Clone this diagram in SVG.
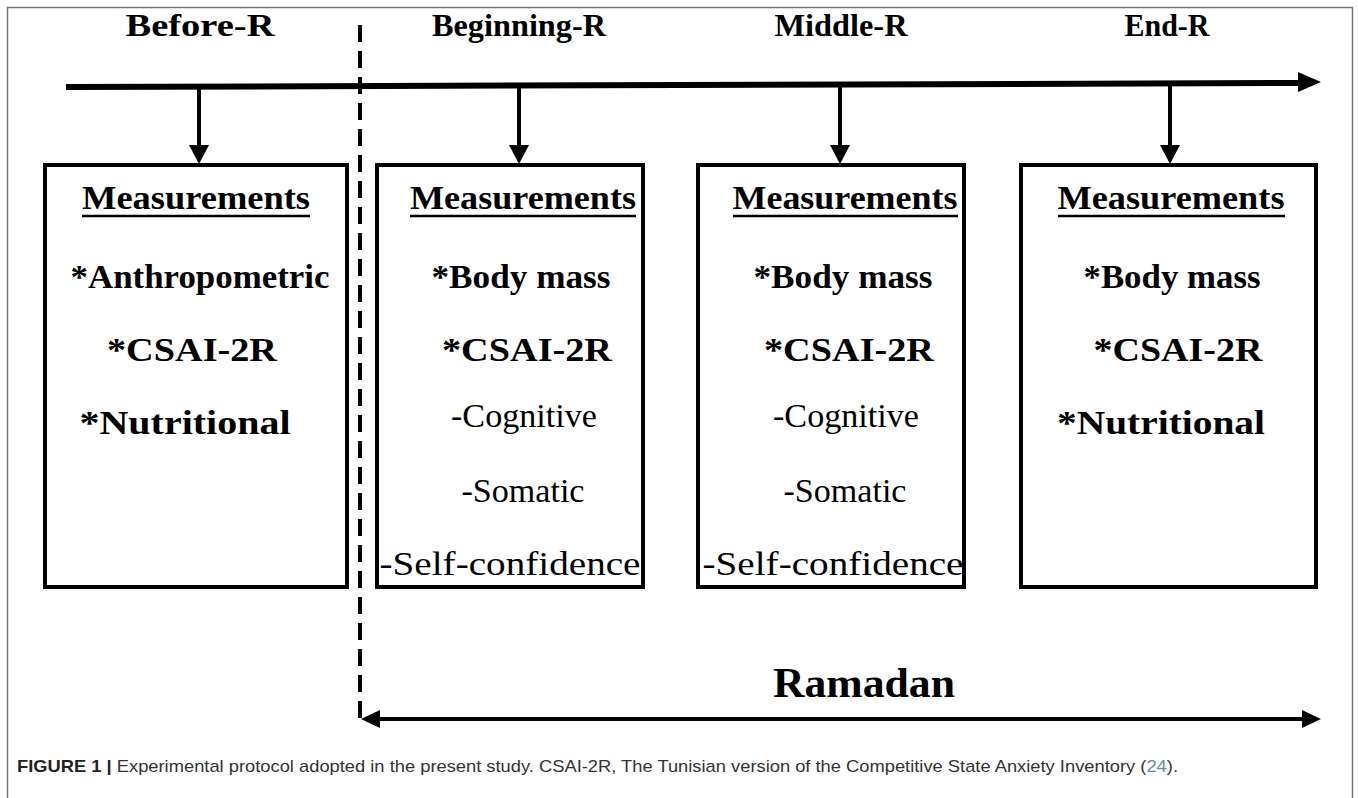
<svg xmlns="http://www.w3.org/2000/svg" width="1358" height="798" viewBox="0 0 1358 798">
<style>
.b{font-family:"Liberation Serif","Times New Roman",serif;font-weight:bold;fill:#000;text-anchor:middle}
.r{font-family:"Liberation Serif","Times New Roman",serif;fill:#000;text-anchor:middle}
.h{font-size:32px}
.t{font-size:33px}
.box{fill:#fff;stroke:#000;stroke-width:4}
.ul{stroke:#000;stroke-width:2.5}
.cap{font-family:"Liberation Sans",Arial,sans-serif;font-size:17px;fill:#333}
</style>
<defs>
<marker id="ah" viewBox="0 0 10 10" refX="10" refY="5" markerWidth="5" markerHeight="5" markerUnits="strokeWidth" orient="auto">
<path d="M0,0 L10,5 L0,10 z" fill="#000"/>
</marker>
<marker id="ah2" viewBox="0 0 10 10" refX="10" refY="5" markerWidth="4.5" markerHeight="4.5" markerUnits="strokeWidth" orient="auto-start-reverse">
<path d="M0,0 L10,5 L0,10 z" fill="#000"/>
</marker>
</defs>
<rect x="7.5" y="7.5" width="1345" height="810" fill="#fff" stroke="#777" stroke-width="1.5"/>

<g id="phase-labels">
<text class="b h" x="200" y="36" textLength="149" lengthAdjust="spacingAndGlyphs">Before-R</text>
<text class="b h" x="519" y="36" textLength="174" lengthAdjust="spacingAndGlyphs">Beginning-R</text>
<text class="b h" x="841" y="36" textLength="133" lengthAdjust="spacingAndGlyphs">Middle-R</text>
<text class="b h" x="1167" y="36" textLength="85" lengthAdjust="spacingAndGlyphs">End-R</text>
</g>

<g id="connectors">
<line x1="66" y1="87" x2="1302" y2="83" stroke="#000" stroke-width="6"/>
<path d="M1298,72 L1321,82 L1298,92 z" fill="#000"/>
<line x1="199" y1="88" x2="199" y2="146" stroke="#000" stroke-width="4"/>
<path d="M189,145 L199,164 L209,145 z" fill="#000"/>
<line x1="519" y1="87" x2="519" y2="146" stroke="#000" stroke-width="4"/>
<path d="M509,145 L519,164 L529,145 z" fill="#000"/>
<line x1="840" y1="86" x2="840" y2="146" stroke="#000" stroke-width="4"/>
<path d="M830,145 L840,164 L850,145 z" fill="#000"/>
<line x1="1170" y1="85" x2="1170" y2="146" stroke="#000" stroke-width="4"/>
<path d="M1160,145 L1170,164 L1180,145 z" fill="#000"/>
<line x1="360" y1="25" x2="360" y2="719" stroke="#000" stroke-width="4" stroke-dasharray="17,9"/>
<line x1="380" y1="719" x2="1302" y2="719" stroke="#000" stroke-width="4"/>
<path d="M380,710 L361,719 L380,728 z" fill="#000"/>
<path d="M1302,710 L1321,719 L1302,728 z" fill="#000"/>
</g>

<g id="box-before">
<rect class="box" x="45" y="165" width="302" height="422"/>
<text class="b t" x="196" y="209" textLength="228" lengthAdjust="spacingAndGlyphs">Measurements</text>
<line class="ul" x1="82" y1="216" x2="310" y2="216"/>
<text class="b t" x="200" y="288" textLength="259" lengthAdjust="spacingAndGlyphs">*Anthropometric</text>
<text class="b t" x="192" y="361" textLength="170" lengthAdjust="spacingAndGlyphs">*CSAI-2R</text>
<text class="b t" x="185" y="434" textLength="211" lengthAdjust="spacingAndGlyphs">*Nutritional</text>
</g>

<g id="box-beginning">
<rect class="box" x="377" y="165" width="266" height="422"/>
<text class="b t" x="523" y="209" textLength="226" lengthAdjust="spacingAndGlyphs">Measurements</text>
<line class="ul" x1="410" y1="216" x2="636" y2="216"/>
<text class="b t" x="521" y="288" textLength="179" lengthAdjust="spacingAndGlyphs">*Body mass</text>
<text class="b t" x="527" y="361" textLength="170" lengthAdjust="spacingAndGlyphs">*CSAI-2R</text>
<text class="r t" x="524" y="427" textLength="146" lengthAdjust="spacingAndGlyphs">-Cognitive</text>
<text class="r t" x="523" y="502" textLength="123" lengthAdjust="spacingAndGlyphs">-Somatic</text>
<text class="r t" x="510" y="575" textLength="261" lengthAdjust="spacingAndGlyphs">-Self-confidence</text>
</g>

<g id="box-middle">
<rect class="box" x="698" y="165" width="266" height="422"/>
<text class="b t" x="845" y="209" textLength="225" lengthAdjust="spacingAndGlyphs">Measurements</text>
<line class="ul" x1="733" y1="216" x2="958" y2="216"/>
<text class="b t" x="843" y="288" textLength="179" lengthAdjust="spacingAndGlyphs">*Body mass</text>
<text class="b t" x="849" y="361" textLength="170" lengthAdjust="spacingAndGlyphs">*CSAI-2R</text>
<text class="r t" x="846" y="427" textLength="146" lengthAdjust="spacingAndGlyphs">-Cognitive</text>
<text class="r t" x="845" y="502" textLength="123" lengthAdjust="spacingAndGlyphs">-Somatic</text>
<text class="r t" x="833" y="575" textLength="261" lengthAdjust="spacingAndGlyphs">-Self-confidence</text>
</g>

<g id="box-end">
<rect class="box" x="1021" y="165" width="295" height="422"/>
<text class="b t" x="1171" y="209" textLength="227" lengthAdjust="spacingAndGlyphs">Measurements</text>
<line class="ul" x1="1058" y1="216" x2="1285" y2="216"/>
<text class="b t" x="1172" y="288" textLength="177" lengthAdjust="spacingAndGlyphs">*Body mass</text>
<text class="b t" x="1178" y="361" textLength="169" lengthAdjust="spacingAndGlyphs">*CSAI-2R</text>
<text class="b t" x="1161" y="434" textLength="208" lengthAdjust="spacingAndGlyphs">*Nutritional</text>
</g>

<g id="ramadan-label">
<text class="b" x="864" y="697" font-size="42" textLength="182" lengthAdjust="spacingAndGlyphs">Ramadan</text>
</g>

<g id="caption">
<text class="cap" x="17" y="772" textLength="1161" lengthAdjust="spacingAndGlyphs"><tspan font-weight="bold" fill="#222">FIGURE 1 |</tspan> Experimental protocol adopted in the present study. CSAI-2R, The Tunisian version of the Competitive State Anxiety Inventory (<tspan fill="#6a8aa8">24</tspan>).</text>
</g>
</svg>
